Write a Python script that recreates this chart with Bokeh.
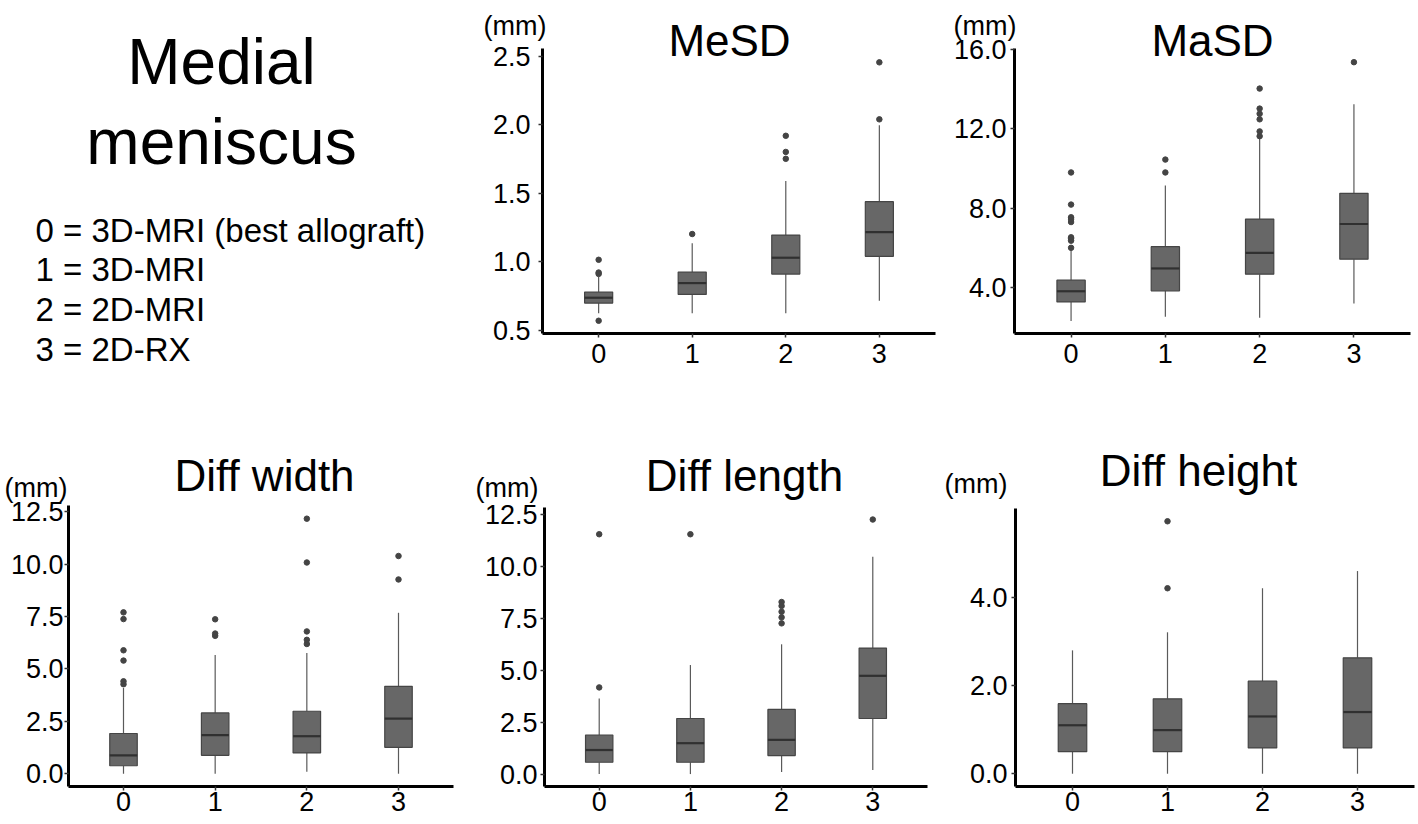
from bokeh.plotting import figure
from bokeh.layouts import row, column
from bokeh.models import Label, FixedTicker, PrintfTickFormatter, Range1d
from bokeh.embed import file_html
from bokeh.resources import INLINE

FONT = "Liberation Sans"

# ---------------- data ----------------
groups = [0, 1, 2, 3]
legend_lines = ["0 = 3D-MRI (best allograft)", "1 = 3D-MRI", "2 = 2D-MRI", "3 = 2D-RX"]
heading_lines = ["Medial", "meniscus"]
unit_text = "(mm)"

# MeSD (mm)
mesd_q1 = [0.697, 0.760, 0.909, 1.038]
mesd_med = [0.736, 0.843, 1.028, 1.215]
mesd_q3 = [0.777, 0.923, 1.193, 1.437]
mesd_lo = [0.622, 0.622, 0.622, 0.714]
mesd_hi = [0.890, 1.133, 1.588, 1.994]
mesd_out_g = [0, 0, 0, 0, 1, 2, 2, 2, 3, 3]
mesd_out_v = [0.568, 0.910, 0.920, 1.013, 1.201, 1.750, 1.800, 1.918, 2.038, 2.454]
mesd_ticks = [0.5, 1.0, 1.5, 2.0, 2.5]

# MaSD (mm)
masd_q1 = [3.27, 3.83, 4.67, 5.43]
masd_med = [3.81, 4.96, 5.75, 7.20]
masd_q3 = [4.37, 6.06, 7.45, 8.75]
masd_lo = [2.31, 2.52, 2.48, 3.19]
masd_hi = [5.90, 9.14, 11.55, 13.24]
masd_out_g = [0, 0, 0, 0, 0, 0, 0, 0, 0, 1, 1, 2, 2, 2, 2, 2, 2, 3]
masd_out_v = [6.00, 6.36, 6.46, 6.53, 7.30, 7.45, 7.54, 8.18, 9.80, 9.80, 10.45,
              11.63, 11.87, 12.48, 12.76, 13.02, 14.03, 15.36]
masd_ticks = [4.0, 8.0, 12.0, 16.0]

# Diff width (mm)
dw_q1 = [0.38, 0.88, 0.99, 1.26]
dw_med = [0.88, 1.84, 1.79, 2.63]
dw_q3 = [1.92, 2.90, 2.98, 4.17]
dw_lo = [0.0, 0.0, 0.09, 0.0]
dw_hi = [4.09, 5.67, 5.76, 7.68]
dw_out_g = [0, 0, 0, 0, 0, 0, 1, 1, 1, 2, 2, 2, 2, 2, 3, 3]
dw_out_v = [4.27, 4.41, 5.40, 5.89, 7.38, 7.70, 6.58, 6.69, 7.37,
            6.19, 6.39, 6.79, 10.08, 12.17, 9.27, 10.39]
dw_ticks = [0.0, 2.5, 5.0, 7.5, 10.0, 12.5]

# Diff length (mm)
dl_q1 = [0.57, 0.57, 0.89, 2.68]
dl_med = [1.16, 1.49, 1.65, 4.74]
dl_q3 = [1.885, 2.68, 3.12, 6.08]
dl_lo = [0.0, 0.0, 0.10, 0.19]
dl_hi = [3.64, 5.26, 6.26, 10.49]
dl_out_g = [0, 0, 1, 2, 2, 2, 2, 2, 3]
dl_out_v = [4.18, 11.57, 11.57, 7.27, 7.56, 7.83, 8.11, 8.30, 12.28]
dl_ticks = [0.0, 2.5, 5.0, 7.5, 10.0, 12.5]

# Diff height (mm)
dh_q1 = [0.50, 0.50, 0.585, 0.585]
dh_med = [1.10, 0.99, 1.30, 1.40]
dh_q3 = [1.59, 1.70, 2.10, 2.63]
dh_lo = [0.0, 0.0, 0.0, 0.0]
dh_hi = [2.80, 3.21, 4.21, 4.60]
dh_out_g = [1, 1]
dh_out_v = [4.21, 5.73]
dh_ticks = [0.0, 2.0, 4.0]

# ---------------- style ----------------
BOX_W = 0.3
BOX_FILL = "#676767"
BOX_LINE = "#454545"
MED_C = "#303030"
WHISK_C = "#5a5a5a"
OUT_C = "#444444"
XR = (-0.6, 3.6)


def panel(title, q1, med, q3, lo, hi, og, ov, ticks, yr, geom, y_standoff, x_standoff, txt):
    fl, ft, fw, fh, al, ar, at, ab = geom
    ppx = (ar - al) / (XR[1] - XR[0])
    ppy = (ab - at) / (yr[1] - yr[0])
    xs = XR[0] - (al - fl) / ppx
    xe = XR[1] + (fl + fw - ar) / ppx
    ye = yr[1] + (at - ft) / ppy
    ys = yr[0] - (ft + fh - ab) / ppy

    p = figure(width=fw, height=fh, output_backend="svg", toolbar_location=None,
               x_range=Range1d(xs, xe), y_range=Range1d(ys, ye), min_border=0)
    p.title.visible = False
    p.outline_line_color = None
    p.xgrid.visible = False
    p.ygrid.visible = False
    p.background_fill_color = "white"
    p.border_fill_color = "white"

    p.segment(x0=groups, y0=q3, x1=groups, y1=hi, line_color=WHISK_C, line_width=1.2)
    p.segment(x0=groups, y0=q1, x1=groups, y1=lo, line_color=WHISK_C, line_width=1.2)
    p.vbar(x=groups, width=BOX_W, top=q3, bottom=q1, fill_color=BOX_FILL,
           line_color=BOX_LINE, line_width=1.2)
    p.segment(x0=[g - BOX_W / 2 for g in groups], y0=med,
              x1=[g + BOX_W / 2 for g in groups], y1=med,
              line_color=MED_C, line_width=2.2)
    p.scatter(x=og, y=ov, size=5.5, fill_color=OUT_C, line_color=OUT_C)

    xa, ya = p.xaxis[0], p.yaxis[0]
    for ax in (xa, ya):
        ax.axis_line_width = 3
        ax.axis_line_color = "black"
        ax.major_tick_line_color = "#333333"
        ax.major_tick_line_width = 1.5
        ax.major_tick_out = 4
        ax.major_tick_in = 0
        ax.minor_tick_line_color = None
        ax.major_label_text_font = FONT
        ax.major_label_text_font_size = "27px"
        ax.major_label_text_color = "black"
    xa.fixed_location = yr[0]
    xa.bounds = XR
    xa.ticker = FixedTicker(ticks=groups)
    xa.formatter = PrintfTickFormatter(format="%d")
    xa.major_label_standoff = x_standoff
    ya.fixed_location = XR[0]
    ya.bounds = yr
    ya.ticker = FixedTicker(ticks=ticks)
    ya.formatter = PrintfTickFormatter(format="%.1f")
    ya.major_label_standoff = y_standoff

    tcx, tby, mlx, mby = txt
    bottom = ft + fh
    p.add_layout(Label(x=tcx - fl, y=bottom - tby, x_units="screen", y_units="screen",
                       text=title, text_font=FONT, text_font_size="44px",
                       text_align="center", text_baseline="alphabetic", text_color="black"))
    p.add_layout(Label(x=mlx - fl, y=bottom - mby, x_units="screen", y_units="screen",
                       text=unit_text, text_font=FONT, text_font_size="27px",
                       text_align="left", text_baseline="alphabetic", text_color="black"))
    return p


# ---------------- left text panel ----------------
TW, TH = 462, 374
tp = figure(width=TW, height=TH, output_backend="svg", toolbar_location=None,
            x_range=Range1d(0, TW), y_range=Range1d(0, TH),
            x_axis_location=None, y_axis_location=None, min_border=0)
tp.title.visible = False
tp.outline_line_color = None
tp.xgrid.visible = False
tp.ygrid.visible = False
for line, yb in zip(heading_lines, [61, 141]):
    tp.add_layout(Label(x=221, y=TH - yb, text=line, text_font=FONT, text_font_size="64px",
                        text_align="center", text_baseline="alphabetic", text_color="black"))
for line, yb in zip(legend_lines, [229.5, 269, 309, 348.5]):
    tp.add_layout(Label(x=35, y=TH - yb, text=line, text_font=FONT, text_font_size="33px",
                        text_align="left", text_baseline="alphabetic", text_color="black"))

# ---------------- panels ----------------
# geometry: fig_left, fig_top, fig_w, fig_h, axis_left, axis_right, axis_top, axis_bottom
p_mesd = panel("MeSD", mesd_q1, mesd_med, mesd_q3, mesd_lo, mesd_hi, mesd_out_g, mesd_out_v,
               mesd_ticks, (0.475, 2.555), (462, 0, 478, 374, 542, 935, 48, 333), 8, 6,
               (729, 40, 483, 25.5))
p_masd = panel("MaSD", masd_q1, masd_med, masd_q3, masd_lo, masd_hi, masd_out_g, masd_out_v,
               masd_ticks, (1.68, 16.05), (940, 0, 476, 374, 1014, 1410, 48, 333), 4, 6,
               (1212, 40, 953, 25.5))
p_dw = panel("Diff width", dw_q1, dw_med, dw_q3, dw_lo, dw_hi, dw_out_g, dw_out_v,
             dw_ticks, (-0.61, 12.8), (0, 374, 462, 448, 68, 453, 505, 786), 1, 1,
             (264, 475, 4, 487))
p_dl = panel("Diff length", dl_q1, dl_med, dl_q3, dl_lo, dl_hi, dl_out_g, dl_out_v,
             dl_ticks, (-0.6, 12.86), (462, 374, 478, 448, 544, 927, 507, 786), 3, 1,
             (744, 475, 475, 487))
p_dh = panel("Diff height", dh_q1, dh_med, dh_q3, dh_lo, dh_hi, dh_out_g, dh_out_v,
             dh_ticks, (-0.29, 6.02), (940, 374, 476, 448, 1015, 1414, 508, 786), 4, 1,
             (1198, 470, 944, 483))

layout = column(row(tp, p_mesd, p_masd, spacing=0), row(p_dw, p_dl, p_dh, spacing=0), spacing=0)

open("out.html", "w").write(file_html(layout, INLINE))
